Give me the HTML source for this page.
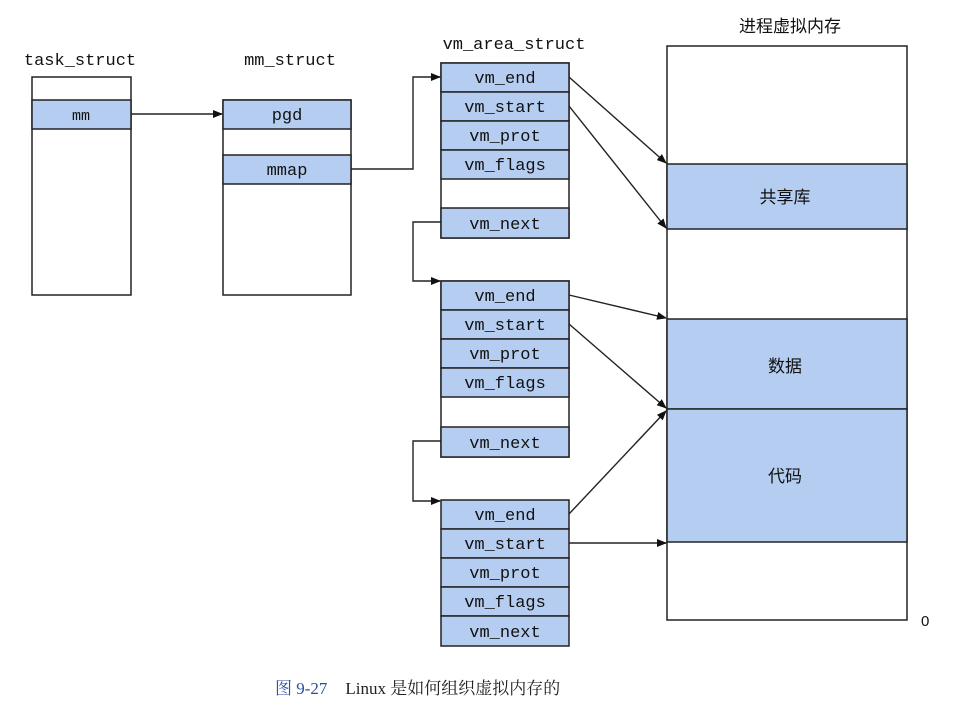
<!DOCTYPE html>
<html><head><meta charset="utf-8"><style>
body{margin:0;background:#fff;}
svg{display:block;}
.m{font-family:"Liberation Mono","DejaVu Sans Mono",monospace;font-size:17px;fill:#111;}
.c{font-family:"Liberation Sans","Noto Sans CJK SC",sans-serif;font-size:17px;fill:#111;}
.s{font-family:"Liberation Serif","Noto Serif CJK SC",serif;font-size:17px;fill:#222;}
</style></head><body>
<svg width="965" height="710" viewBox="0 0 965 710" xmlns="http://www.w3.org/2000/svg">
<defs><marker id="a" markerWidth="10" markerHeight="8" refX="9" refY="4" orient="auto" markerUnits="userSpaceOnUse"><path d="M0,0 L10,4 L0,8 z" fill="#111"/></marker></defs>
<g stroke="#222" stroke-width="1.5" fill="none">
<!-- task_struct -->
<rect x="32" y="77" width="99" height="218" fill="#fff"/>
<rect x="32" y="100" width="99" height="29" fill="#b5cdf0"/>
<!-- mm_struct -->
<rect x="223" y="100" width="128" height="195" fill="#fff"/>
<rect x="223" y="100" width="128" height="29" fill="#b5cdf0"/>
<rect x="223" y="155" width="128" height="29" fill="#b5cdf0"/>
<!-- vm boxes -->
<rect x="441" y="63" width="128" height="175" fill="#fff"/>
<rect x="441" y="63" width="128" height="29" fill="#b5cdf0"/><rect x="441" y="92" width="128" height="29" fill="#b5cdf0"/><rect x="441" y="121" width="128" height="29" fill="#b5cdf0"/><rect x="441" y="150" width="128" height="29" fill="#b5cdf0"/><rect x="441" y="208" width="128" height="30" fill="#b5cdf0"/>
<rect x="441" y="281" width="128" height="176" fill="#fff"/>
<rect x="441" y="281" width="128" height="29" fill="#b5cdf0"/><rect x="441" y="310" width="128" height="29" fill="#b5cdf0"/><rect x="441" y="339" width="128" height="29" fill="#b5cdf0"/><rect x="441" y="368" width="128" height="29" fill="#b5cdf0"/><rect x="441" y="427" width="128" height="30" fill="#b5cdf0"/>
<rect x="441" y="500" width="128" height="29" fill="#b5cdf0"/><rect x="441" y="529" width="128" height="29" fill="#b5cdf0"/><rect x="441" y="558" width="128" height="29" fill="#b5cdf0"/><rect x="441" y="587" width="128" height="29" fill="#b5cdf0"/><rect x="441" y="616" width="128" height="30" fill="#b5cdf0"/>
<!-- memory -->
<rect x="667" y="46" width="240" height="574" fill="#fff"/>
<rect x="667" y="164" width="240" height="65" fill="#b5cdf0"/>
<rect x="667" y="319" width="240" height="90" fill="#b5cdf0"/>
<rect x="667" y="409" width="240" height="133" fill="#b5cdf0"/>
<!-- connectors -->
<g stroke-width="1.4">
<path d="M131,114 H222" marker-end="url(#a)"/>
<path d="M351,169 H413 V77 H440" marker-end="url(#a)"/>
<path d="M441,222 H413 V281 H440" marker-end="url(#a)"/>
<path d="M441,441 H413 V501 H440" marker-end="url(#a)"/>
<path d="M569,77 L666,163" marker-end="url(#a)"/>
<path d="M569,106 L666,228" marker-end="url(#a)"/>
<path d="M569,295 L666,318" marker-end="url(#a)"/>
<path d="M569,324 L666,408" marker-end="url(#a)"/>
<path d="M569,514 L666,411" marker-end="url(#a)"/>
<path d="M569,543 H666" marker-end="url(#a)"/>
</g>
</g>
<text class="m" x="80" y="65" text-anchor="middle">task_struct</text>
<text class="m" x="290" y="65" text-anchor="middle">mm_struct</text>
<text class="m" x="514" y="49" text-anchor="middle">vm_area_struct</text>
<text class="c" x="790" y="32" text-anchor="middle">进程虚拟内存</text>
<g class="m" text-anchor="middle">
<text x="81" y="120" style="font-size:15px">mm</text>
<text x="287" y="120">pgd</text>
<text x="287" y="175">mmap</text>
<text x="505" y="83">vm_end</text><text x="505" y="112">vm_start</text><text x="505" y="141">vm_prot</text><text x="505" y="170">vm_flags</text><text x="505" y="229">vm_next</text>
<text x="505" y="301">vm_end</text><text x="505" y="330">vm_start</text><text x="505" y="359">vm_prot</text><text x="505" y="388">vm_flags</text><text x="505" y="448">vm_next</text>
<text x="505" y="520">vm_end</text><text x="505" y="549">vm_start</text><text x="505" y="578">vm_prot</text><text x="505" y="607">vm_flags</text><text x="505" y="637">vm_next</text>
</g>
<g class="c" text-anchor="middle">
<text x="785" y="203">共享库</text>
<text x="785" y="372">数据</text>
<text x="785" y="482">代码</text>
</g>
<text class="c" x="921" y="626" style="font-size:15px">0</text>
<text class="s" x="275" y="694"><tspan fill="#2b4fa0">图 9-27</tspan><tspan dx="18">Linux 是如何组织虚拟内存的</tspan></text>
</svg>
</body></html>
